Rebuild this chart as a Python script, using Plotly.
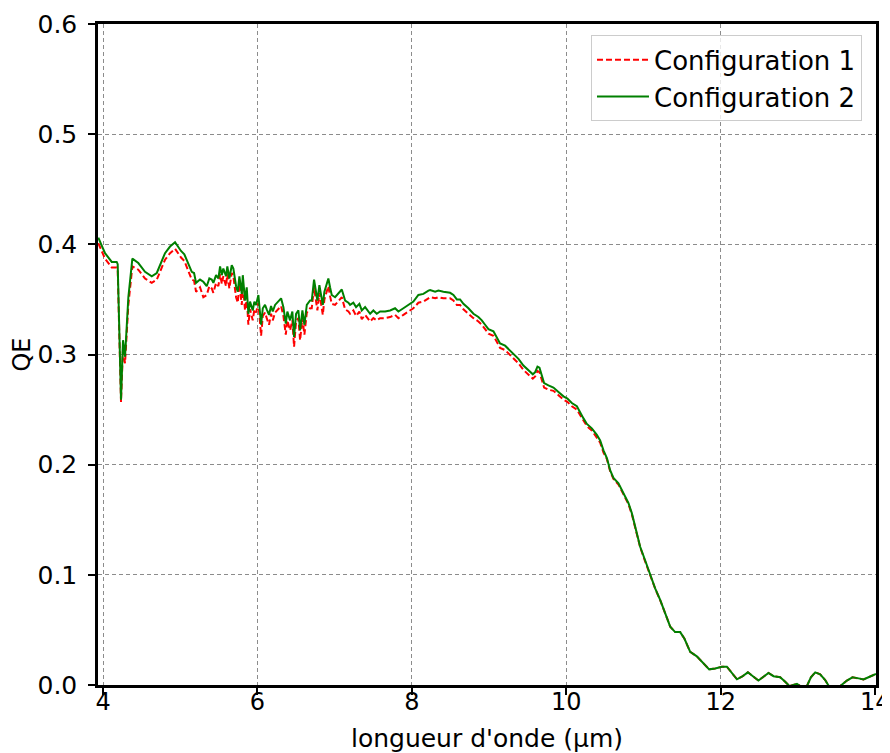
import plotly.graph_objects as go

# wavelength (µm) and quantum efficiency
wavelength = [
    3.939, 4.026, 4.113, 4.177, 4.190, 4.233, 4.259, 4.285, 4.328, 4.380,
    4.457, 4.544, 4.631, 4.696, 4.803, 4.868, 4.933, 4.968, 5.010, 5.053,
    5.084, 5.118, 5.149, 5.179, 5.205, 5.256, 5.299, 5.343, 5.377, 5.408,
    5.429, 5.464, 5.494, 5.516, 5.538, 5.558, 5.593, 5.610, 5.636, 5.667,
    5.688, 5.723, 5.745, 5.766, 5.797, 5.810, 5.839, 5.861, 5.882, 5.904,
    5.939, 5.960, 5.982, 6.012, 6.047, 6.069, 6.098, 6.120, 6.150, 6.176,
    6.198, 6.228, 6.271, 6.306, 6.336, 6.367, 6.387, 6.422, 6.452, 6.474,
    6.500, 6.530, 6.552, 6.582, 6.608, 6.639, 6.681, 6.703, 6.733, 6.759,
    6.776, 6.802, 6.828, 6.846, 6.867, 6.898, 6.918, 6.940, 6.962, 7.005,
    7.048, 7.092, 7.135, 7.178, 7.199, 7.242, 7.277, 7.320, 7.351, 7.394,
    7.459, 7.501, 7.545, 7.588, 7.653, 7.718, 7.782, 7.825, 7.890, 7.955,
    8.019, 8.084, 8.149, 8.214, 8.236, 8.301, 8.343, 8.408, 8.495, 8.538,
    8.582, 8.624, 8.667, 8.732, 8.797, 8.861, 8.905, 8.948, 8.991, 9.056,
    9.100, 9.142, 9.207, 9.250, 9.315, 9.380, 9.444, 9.509, 9.566, 9.596,
    9.626, 9.652, 9.683, 9.712, 9.768, 9.833, 9.898, 9.963, 10.014, 10.071,
    10.136, 10.179, 10.222, 10.266, 10.330, 10.395, 10.438, 10.481, 10.525, 10.567,
    10.610, 10.675, 10.740, 10.805, 10.848, 10.891, 10.956, 11.021, 11.085, 11.150,
    11.215, 11.280, 11.345, 11.409, 11.474, 11.530, 11.604, 11.690, 11.776, 11.850,
    11.927, 12.014, 12.079, 12.144, 12.209, 12.273, 12.351, 12.424, 12.488, 12.553,
    12.618, 12.683, 12.769, 12.834, 12.890, 12.986, 13.051, 13.115, 13.167, 13.223,
    13.287, 13.352, 13.408, 13.459, 13.546, 13.633, 13.705, 13.785, 13.848, 13.913,
    13.978, 14.010,
]

qe_config2 = [
    0.406, 0.392, 0.384, 0.384, 0.382, 0.259, 0.313, 0.298, 0.352, 0.387,
    0.383, 0.375, 0.371, 0.374, 0.392, 0.398, 0.402, 0.398, 0.394, 0.391,
    0.386, 0.380, 0.375, 0.374, 0.365, 0.368, 0.366, 0.362, 0.369, 0.368,
    0.365, 0.372, 0.369, 0.380, 0.372, 0.378, 0.371, 0.380, 0.369, 0.381,
    0.378, 0.362, 0.357, 0.371, 0.355, 0.372, 0.349, 0.361, 0.337, 0.348,
    0.340, 0.348, 0.345, 0.354, 0.327, 0.342, 0.345, 0.341, 0.336, 0.344,
    0.339, 0.345, 0.348, 0.351, 0.343, 0.328, 0.339, 0.331, 0.339, 0.316,
    0.337, 0.340, 0.322, 0.340, 0.327, 0.345, 0.349, 0.349, 0.368, 0.356,
    0.349, 0.363, 0.353, 0.345, 0.357, 0.366, 0.369, 0.361, 0.354, 0.352,
    0.356, 0.359, 0.349, 0.347, 0.345, 0.347, 0.343, 0.346, 0.340, 0.343,
    0.337, 0.340, 0.337, 0.339, 0.339, 0.340, 0.342, 0.339, 0.342, 0.345,
    0.348, 0.354, 0.355, 0.358, 0.3585, 0.357, 0.358, 0.357, 0.356, 0.354,
    0.350, 0.350, 0.346, 0.342, 0.337, 0.334, 0.331, 0.327, 0.323, 0.321,
    0.316, 0.310, 0.308, 0.305, 0.300, 0.296, 0.290, 0.286, 0.282, 0.284,
    0.289, 0.288, 0.280, 0.274, 0.272, 0.270, 0.266, 0.262, 0.260, 0.256,
    0.253, 0.247, 0.242, 0.237, 0.233, 0.227, 0.222, 0.213, 0.206, 0.195,
    0.188, 0.183, 0.174, 0.165, 0.156, 0.144, 0.1255, 0.113, 0.0998, 0.0878,
    0.0772, 0.065, 0.053, 0.048, 0.048, 0.042, 0.030, 0.026, 0.020, 0.0142,
    0.015, 0.0166, 0.0166, 0.0106, 0.0052, 0.0075, 0.0115, 0.0075, 0.004, 0.0075,
    0.011, 0.008, 0.007, 0.003, -0.001, 0.001, -0.002, -0.001, 0.007, 0.0115,
    0.0097, 0.0045, -0.002, -0.003, -0.001, 0.004, 0.007, 0.006, 0.005, 0.007,
    0.009, 0.010,
]

qe_config1 = [
    0.401, 0.387, 0.379, 0.379, 0.377, 0.257, 0.307, 0.292, 0.345, 0.380,
    0.377, 0.369, 0.365, 0.368, 0.386, 0.392, 0.396, 0.392, 0.388, 0.385,
    0.380, 0.373, 0.368, 0.367, 0.357, 0.361, 0.352, 0.354, 0.362, 0.360,
    0.356, 0.365, 0.362, 0.373, 0.364, 0.371, 0.362, 0.373, 0.360, 0.374,
    0.371, 0.352, 0.347, 0.364, 0.345, 0.365, 0.340, 0.353, 0.327, 0.341,
    0.331, 0.341, 0.338, 0.347, 0.317, 0.335, 0.338, 0.333, 0.327, 0.337,
    0.331, 0.338, 0.341, 0.344, 0.335, 0.318, 0.331, 0.322, 0.331, 0.307,
    0.330, 0.333, 0.313, 0.333, 0.318, 0.338, 0.342, 0.342, 0.361, 0.348,
    0.340, 0.356, 0.345, 0.336, 0.350, 0.359, 0.362, 0.353, 0.346, 0.345,
    0.349, 0.352, 0.341, 0.339, 0.337, 0.340, 0.335, 0.339, 0.332, 0.336,
    0.330, 0.333, 0.331, 0.333, 0.333, 0.334, 0.336, 0.333, 0.336, 0.339,
    0.342, 0.347, 0.348, 0.351, 0.352, 0.351, 0.352, 0.351, 0.351, 0.349,
    0.345, 0.345, 0.341, 0.337, 0.333, 0.330, 0.327, 0.323, 0.319, 0.317,
    0.312, 0.306, 0.304, 0.301, 0.296, 0.292, 0.286, 0.282, 0.278, 0.280,
    0.285, 0.284, 0.276, 0.270, 0.268, 0.267, 0.263, 0.259, 0.257, 0.253,
    0.250, 0.245, 0.240, 0.235, 0.231, 0.225, 0.220, 0.211, 0.205, 0.194,
    0.187, 0.182, 0.173, 0.164, 0.155, 0.143, 0.125, 0.112, 0.0995, 0.0875,
    0.077, 0.065, 0.053, 0.048, 0.048, 0.042, 0.030, 0.026, 0.020, 0.0142,
    0.015, 0.0166, 0.0166, 0.0106, 0.0052, 0.0075, 0.0115, 0.0075, 0.004, 0.0075,
    0.011, 0.008, 0.007, 0.003, -0.001, 0.001, -0.002, -0.001, 0.007, 0.0115,
    0.0097, 0.0045, -0.002, -0.003, -0.001, 0.004, 0.007, 0.006, 0.005, 0.007,
    0.009, 0.010,
]

x_ticks = [4, 6, 8, 10, 12, 14]
y_ticks = [0.0, 0.1, 0.2, 0.3, 0.4, 0.5, 0.6]
x_range = [3.935, 14.01]

fig = go.Figure()

fig.add_trace(go.Scatter(
    x=wavelength, y=qe_config1,
    mode='lines',
    name='Configuration 1',
    line=dict(color='#ff0000', width=2, dash='6px,3px'),
))

# drawn on the overlay x axis, which carries the tick labels (closer to the spine)
fig.add_trace(go.Scatter(
    x=wavelength, y=qe_config2,
    xaxis='x2',
    mode='lines',
    name='Configuration 2',
    line=dict(color='#008000', width=2),
))

axis_common = dict(
    automargin=False,
    showline=True,
    linecolor='black',
    linewidth=2.5,
    mirror=True,
    ticks='outside',
    ticklen=7,
    tickwidth=2,
    tickcolor='black',
    showgrid=True,
    gridcolor='#8c8c8c',
    gridwidth=1,
    griddash='4px,3px',
    zeroline=False,
)

# the page body adds an 8px offset, so the figure is sized to the visible area
fig.update_layout(
    width=882,
    height=745,
    margin=dict(l=90, r=14, t=16, b=68),
    plot_bgcolor='white',
    paper_bgcolor='white',
    font=dict(family='DejaVu Sans', color='black'),
    xaxis=dict(
        axis_common,
        range=x_range,
        tickvals=x_ticks,
        showticklabels=False,
    ),
    xaxis2=dict(
        overlaying='x',
        anchor='y',
        side='bottom',
        automargin=False,
        range=x_range,
        tickvals=x_ticks,
        ticktext=[str(v) for v in x_ticks],
        ticks='',
        showline=False,
        showgrid=False,
        zeroline=False,
        tickfont=dict(size=24),
        ticklabeloverflow='allow',
        title=dict(text="longueur d'onde (µm)", font=dict(size=25), standoff=15),
    ),
    yaxis=dict(
        axis_common,
        range=[0, 0.6],
        tickvals=y_ticks,
        ticktext=[f'{v:.1f}' for v in y_ticks],
        tickfont=dict(size=25),
        ticklabelstandoff=6,
        title=dict(text='QE', font=dict(size=24), standoff=5),
    ),
    legend=dict(
        x=0.982, y=0.983,
        xanchor='right', yanchor='top',
        bgcolor='rgba(255,255,255,0.8)',
        bordercolor='#cccccc',
        borderwidth=1,
        font=dict(size=26),
        itemwidth=52,
    ),
)

fig.write_html('out.html')
